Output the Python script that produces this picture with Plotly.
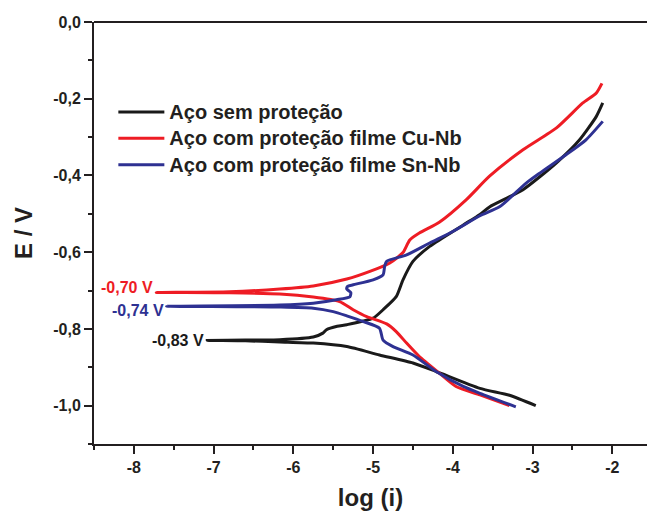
import plotly.graph_objects as go

# Tafel polarisation curves: log(i) vs potential E (V)
# each series runs from the cathodic end, through Ecorr, out along the anodic branch

names = ["Aço sem proteção", "Aço com proteção filme Cu-Nb", "Aço com proteção filme Sn-Nb"]
colors = ["#1a1a1a", "#ee1c24", "#2e3192"]

ecorr_labels = ["-0,83 V", "-0,70 V", "-0,74 V"]
ecorr_label_shift = [0, 5, -4]

x_tickvals = [-8, -7, -6, -5, -4, -3, -2]
x_ticktext = ["-8", "-7", "-6", "-5", "-4", "-3", "-2"]
y_tickvals = [0.0, -0.2, -0.4, -0.6, -0.8, -1.0]
y_ticktext = ["0,0", "-0,2", "-0,4", "-0,6", "-0,8", "-1,0"]

# Aço sem proteção
bare_logi = [-2.96, -3.29, -3.66, -4.21, -4.50, -4.92, -5.33, -5.75, -6.17, -6.60, -7.08,
             -6.60, -6.17, -5.75, -5.63, -5.585, -5.45, -5.33, -5.00, -4.875, -4.71, -4.625,
             -4.50, -4.29, -4.00, -3.66, -3.54, -3.12, -2.70, -2.41, -2.20, -2.12]
bare_e = [-1.000, -0.973, -0.955, -0.911, -0.889, -0.868, -0.846, -0.837, -0.834, -0.831, -0.830,
          -0.829, -0.828, -0.821, -0.811, -0.802, -0.793, -0.789, -0.772, -0.750, -0.716, -0.672,
          -0.624, -0.585, -0.546, -0.502, -0.482, -0.437, -0.367, -0.307, -0.246, -0.211]

# Aço com proteção filme Cu-Nb
cunb_logi = [-3.29, -3.66, -3.96, -4.17, -4.42, -4.58, -4.71, -4.83, -5.08, -5.25, -5.42, -5.75,
             -6.17, -6.80, -7.72,
             -6.80, -6.17, -5.75, -5.33, -5.04, -4.79, -4.625, -4.54, -4.42, -4.17, -3.83,
             -3.54, -3.12, -2.70, -2.37, -2.20, -2.13]
cunb_e = [-1.000, -0.972, -0.950, -0.915, -0.872, -0.837, -0.807, -0.787, -0.768, -0.750, -0.729,
          -0.717, -0.709, -0.706, -0.705,
          -0.703, -0.696, -0.688, -0.670, -0.650, -0.628, -0.601, -0.568, -0.550, -0.522, -0.463,
          -0.402, -0.333, -0.276, -0.211, -0.185, -0.160]

# Aço com proteção filme Sn-Nb
snnb_logi = [-3.21, -3.66, -3.87, -4.21, -4.50, -4.75, -4.875, -4.92, -5.12, -5.33, -5.50, -5.75,
             -6.17, -7.59,
             -6.17, -5.75, -5.46, -5.29, -5.28, -5.33, -5.32, -5.25, -5.00, -4.875, -4.855, -4.83,
             -4.58, -4.29, -4.00, -3.66, -3.41, -3.08, -2.91, -2.58, -2.33, -2.12]
snnb_e = [-1.003, -0.968, -0.950, -0.911, -0.868, -0.846, -0.829, -0.798, -0.781, -0.766, -0.755,
          -0.746, -0.743, -0.741,
          -0.738, -0.733, -0.724, -0.716, -0.705, -0.696, -0.689, -0.685, -0.672, -0.659, -0.637,
          -0.624, -0.607, -0.576, -0.546, -0.505, -0.481, -0.420, -0.394, -0.346, -0.307, -0.259]

series_x = [bare_logi, cunb_logi, snnb_logi]
series_y = [bare_e, cunb_e, snnb_e]

FONT = "Liberation Sans"
INK = "#231f20"

fig = go.Figure()
for name, color, xs, ys in zip(names, colors, series_x, series_y):
    fig.add_trace(go.Scatter(
        x=xs, y=ys, mode="lines",
        # larger glyphs than the legend's row pitch, so entries sit tightly stacked
        name=f'<span style="font-size:20px">{name}</span>',
        line=dict(color=color, width=3, shape="spline", smoothing=0.6),
    ))

# Ecorr labels at the tip of each curve
for label, color, dy, xs, ys in zip(ecorr_labels, colors, ecorr_label_shift, series_x, series_y):
    i_tip = xs.index(min(xs))
    fig.add_annotation(
        x=xs[i_tip], y=ys[i_tip], text=f"<b>{label}</b>", showarrow=False,
        xanchor="right", yanchor="middle", xshift=-1, yshift=dy,
        font=dict(family=FONT, size=16, color=color),
    )

axis_common = dict(
    showgrid=False, zeroline=False, showline=True, linecolor=INK, linewidth=2,
    ticks="outside", ticklen=8, tickwidth=2, tickcolor=INK,
    tickfont=dict(family=FONT, size=16, color=INK, weight="bold"),
)

fig.update_xaxes(
    **axis_common, range=[-8.5, -1.565], tickmode="array",
    tickvals=x_tickvals, ticktext=x_ticktext,
    minor=dict(dtick=0.5, tick0=-8, ticks="outside", ticklen=4, tickwidth=2, tickcolor=INK),
    title=dict(text="log (i)", font=dict(family=FONT, size=24, color=INK, weight="bold"),
               standoff=14),
)
fig.update_yaxes(
    **axis_common, range=[-1.1, 0.0], tickmode="array",
    tickvals=y_tickvals, ticktext=y_ticktext,
    minor=dict(dtick=0.1, tick0=0, ticks="outside", ticklen=4, tickwidth=2, tickcolor=INK),
    title=dict(text="E / V", font=dict(family=FONT, size=24, color=INK, weight="bold"),
               standoff=14),
)

# top frame line
fig.add_shape(type="line", xref="paper", yref="paper", x0=0, x1=1, y0=1, y1=1,
              line=dict(color=INK, width=2))

fig.update_layout(
    width=647, height=519,
    margin=dict(l=94, r=0, t=22, b=75),
    paper_bgcolor="white", plot_bgcolor="white",
    showlegend=True,
    legend=dict(
        x=0.035, y=0.83, xanchor="left", yanchor="top",
        bgcolor="rgba(0,0,0,0)", borderwidth=0,
        font=dict(family=FONT, size=18, color=INK, weight="bold"),
        tracegroupgap=0, itemwidth=46,
    ),
)

fig.write_html("out.html")
